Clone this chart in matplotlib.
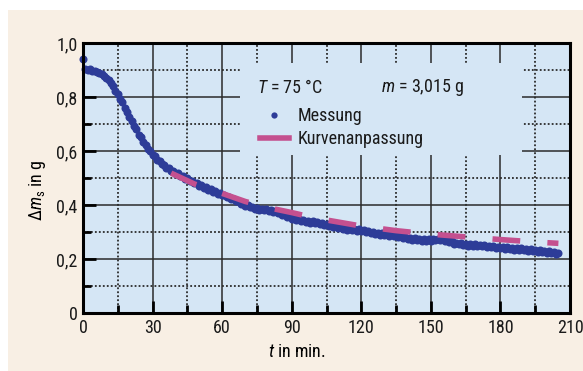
import matplotlib.pyplot as plt
from matplotlib import font_manager
from matplotlib.patches import Rectangle
from matplotlib.lines import Line2D

# Messung: Massenabnahme je Minute
minutes = list(range(0, 206))
mass = [
    0.940, 0.904, 0.899, 0.902, 0.895, 0.898, 0.891, 0.889, 0.884, 0.879, 0.870,
    0.864, 0.850, 0.841, 0.824, 0.812, 0.794, 0.781, 0.760, 0.746, 0.726,
    0.712, 0.692, 0.680, 0.661, 0.650, 0.633, 0.624, 0.608, 0.600, 0.586,
    0.580, 0.567, 0.563, 0.551, 0.549, 0.538, 0.537, 0.526, 0.527, 0.516,
    0.517, 0.507, 0.508, 0.497, 0.499, 0.489, 0.490, 0.480, 0.482, 0.471,
    0.474, 0.464, 0.467, 0.457, 0.459, 0.449, 0.452, 0.442, 0.445, 0.436,
    0.438, 0.429, 0.431, 0.421, 0.423, 0.413, 0.415, 0.405, 0.407, 0.397,
    0.400, 0.391, 0.394, 0.386, 0.390, 0.382, 0.387, 0.380, 0.385, 0.378,
    0.382, 0.374, 0.378, 0.369, 0.373, 0.363, 0.365, 0.355, 0.358, 0.349,
    0.352, 0.344, 0.348, 0.340, 0.344, 0.337, 0.342, 0.335, 0.340, 0.333,
    0.337, 0.329, 0.333, 0.325, 0.329, 0.321, 0.325, 0.317, 0.321, 0.313,
    0.318, 0.311, 0.316, 0.309, 0.314, 0.307, 0.312, 0.305, 0.310, 0.303,
    0.307, 0.299, 0.303, 0.295, 0.299, 0.292, 0.297, 0.290, 0.295, 0.288,
    0.293, 0.286, 0.291, 0.284, 0.289, 0.281, 0.285, 0.277, 0.281, 0.274,
    0.279, 0.272, 0.277, 0.270, 0.275, 0.268, 0.273, 0.267, 0.273, 0.267,
    0.274, 0.269, 0.275, 0.269, 0.274, 0.267, 0.271, 0.262, 0.265, 0.257,
    0.261, 0.254, 0.259, 0.252, 0.257, 0.250, 0.255, 0.249, 0.254, 0.248,
    0.253, 0.247, 0.252, 0.245, 0.250, 0.243, 0.248, 0.241, 0.246, 0.240,
    0.245, 0.238, 0.243, 0.237, 0.242, 0.235, 0.240, 0.234, 0.239, 0.233,
    0.238, 0.231, 0.236, 0.229, 0.234, 0.227, 0.232, 0.225, 0.230, 0.223,
    0.228, 0.221, 0.226, 0.219, 0.224,
]

# Kurvenanpassung
fit_t = [38, 48, 60, 70, 80, 90, 100, 110, 120, 135, 150, 165, 180, 195, 205]
fit_m = [0.518, 0.478, 0.443, 0.413, 0.390, 0.372, 0.352, 0.337, 0.322,
         0.305, 0.292, 0.282, 0.272, 0.263, 0.258]

x_ticks = [0, 30, 60, 90, 120, 150, 180, 210]
x_minor = [15, 45, 75, 105, 135, 165, 195]
y_ticks = [0, 0.2, 0.4, 0.6, 0.8, 1.0]
y_labels = ["0", "0,2", "0,4", "0,6", "0,8", "1,0"]
y_minor = [0.1, 0.3, 0.5, 0.7, 0.9]

beige = "#f8efe4"
panel = "#d5e6f5"
dot_blue = "#2d3c98"
magenta = "#c4508f"
grid_col = "#2b2b2b"

# schmale Schrift, falls vorhanden
installed = {f.name for f in font_manager.fontManager.ttflist}
candidates = ["Liberation Sans Narrow", "Roboto Condensed", "Open Sans Condensed",
              "Roboto", "Liberation Sans", "DejaVu Sans"]
font = next(n for n in candidates if n in installed)

plt.rcParams["font.family"] = [font, "DejaVu Sans"]
plt.rcParams["mathtext.fontset"] = "custom"
plt.rcParams["mathtext.rm"] = font
plt.rcParams["mathtext.it"] = font + ":italic"
plt.rcParams["font.size"] = 13
plt.rcParams["text.color"] = "#1a1a1a"
plt.rcParams["xtick.labelcolor"] = "#1a1a1a"
plt.rcParams["ytick.labelcolor"] = "#1a1a1a"


def main():
    fig = plt.figure(figsize=(5.83, 3.71), dpi=100)
    fig.patch.set_facecolor("white")
    fig.add_artist(Rectangle((8 / 583, 0), 1, 361 / 371, transform=fig.transFigure,
                             facecolor=beige, edgecolor="none", zorder=-10))

    ax = fig.add_axes([83 / 583, 58 / 371, 487 / 583, 270 / 371])
    ax.set_facecolor(panel)
    ax.set_axisbelow(True)

    ax.set_xlim(0, 210)
    ax.set_ylim(0, 1.0)
    ax.set_xticks(x_ticks)
    ax.set_xticks(x_minor, minor=True)
    ax.set_yticks(y_ticks)
    ax.set_yticklabels(y_labels)
    ax.set_yticks(y_minor, minor=True)

    ax.grid(which="major", color=grid_col, lw=1.1, ls="-")
    ax.grid(which="minor", color=grid_col, lw=1.3, ls=(0, (1, 1.2)))
    ax.tick_params(which="both", direction="in", width=2, color="black")
    ax.tick_params(which="major", length=9, pad=4)
    ax.tick_params(which="minor", length=6)
    for s in ax.spines.values():
        s.set_linewidth(2.2)
        s.set_color("black")

    # Feld für die Legende verdeckt das Gitter
    ax.add_patch(Rectangle((0.322, 0.585), 0.579, 0.341, transform=ax.transAxes,
                           facecolor=panel, edgecolor="none", zorder=1))

    ax.plot(minutes, mass, "o", ms=5.8, color=dot_blue, mew=0, zorder=2, clip_on=False)
    ax.plot(fit_t, fit_m, color=magenta, lw=4, dashes=(5.0, 4.9),
            dash_capstyle="butt", zorder=3)

    ax.text(0.358, 0.835, "$T$ = 75 °C", transform=ax.transAxes, va="center", zorder=4)
    ax.text(0.612, 0.835, "$m$ = 3,015 g", transform=ax.transAxes, va="center", zorder=4)

    handles = [
        Line2D([], [], ls="none", marker="o", ms=4.5, color=dot_blue, mew=0),
        Line2D([], [], color=magenta, lw=4),
    ]
    leg = ax.legend(handles, ["Messung", "Kurvenanpassung"], loc="upper left",
                    bbox_to_anchor=(0.345, 0.795), frameon=False, borderpad=0,
                    handlelength=1.6, handletextpad=0.5, labelspacing=0.25,
                    numpoints=1, fontsize=13)
    leg.set_zorder(4)

    ax.set_xlabel("$t$ in min.")
    ax.xaxis.set_label_coords(0.44, -0.11)
    ax.set_ylabel(r"$\Delta m_\mathrm{s}$ in g")
    ax.yaxis.set_label_coords(-0.072, 0.456)

    fig.savefig("out.png", dpi=100, facecolor=fig.get_facecolor())


if __name__ == "__main__":
    main()
